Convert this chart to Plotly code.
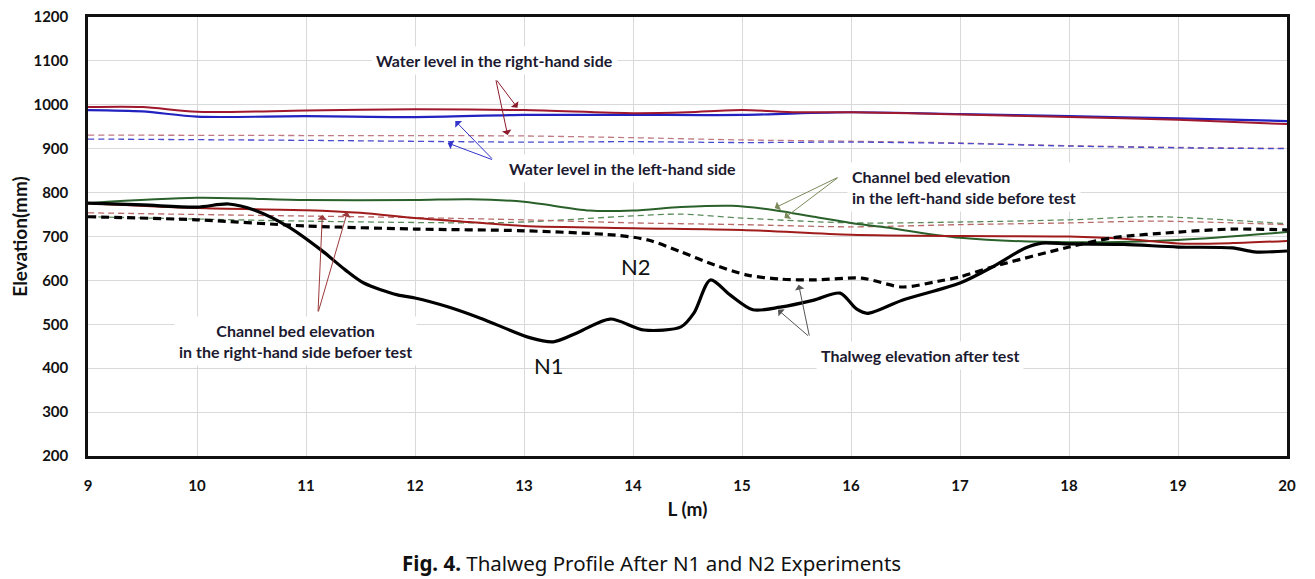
import plotly.graph_objects as go

# ---------------- data ----------------
wl_right_x = [9, 9.5, 10, 11, 12, 13, 14, 14.5, 15, 15.5, 16, 17, 18, 19, 20]
wl_right_y = [995, 995, 984, 987, 990, 988, 981, 983, 988, 983, 983, 978, 972, 966, 956]

wl_left_x = [9, 9.5, 10, 11, 12, 13, 14, 15, 16, 17, 18, 19, 20]
wl_left_y = [988, 985, 973, 974, 972, 977, 977, 977, 983, 979, 974, 969, 963]

wl_right_d_x = [9, 11, 13, 14, 15, 16, 17, 18, 19, 20]
wl_right_d_y = [931, 930, 929, 925, 920, 917, 913, 907, 903, 901]

wl_left_d_x = [9, 11, 13, 14, 15, 16, 17, 18, 19, 20]
wl_left_d_y = [922, 919, 915, 916, 914, 915, 912, 906, 902, 900]

bed_left_x = [9, 10, 11, 12, 12.5, 13, 13.6, 14, 14.44, 14.9, 15.3, 15.66, 16, 16.28, 17, 18, 19, 20]
bed_left_y = [776, 788, 783, 783, 785, 779, 759, 759, 767, 770, 760, 745, 731, 722, 697, 687, 692, 710]

bed_right_x = [9, 10, 11, 11.5, 12, 12.5, 13, 14, 15, 16, 17, 18, 18.5, 19, 19.5, 20]
bed_right_y = [776, 765, 760, 754, 742, 733, 724, 719, 715, 704, 701, 700, 695, 684, 685, 690]

bed_left_d_x = [9, 11, 12.6, 13, 14, 14.44, 15, 16, 17, 18, 18.8, 20]
bed_left_d_y = [745, 735, 731, 733, 747, 751, 742, 731, 733, 738, 745, 729]

bed_right_d_x = [9, 10.3, 12, 13, 14, 15, 16, 17, 18, 18.8, 20]
bed_right_d_y = [754, 749, 743, 738, 731, 727, 722, 727, 731, 735, 727]

n1_x = [9, 9.5, 10, 10.29, 10.53, 10.84, 11.14, 11.36, 11.53, 11.84, 12.0, 12.3, 12.6, 13.06,
        13.27, 13.5, 13.79, 14.1, 14.44, 14.56, 14.71, 14.89, 15.1, 15.35, 15.66, 15.9, 16.05,
        16.15, 16.47, 17.0, 17.3, 17.6, 17.75, 18.0, 18.5, 19.0, 19.5, 19.7, 20.0]
n1_y = [776, 772, 767, 774, 760, 722, 669, 624, 594, 567, 560, 540, 514, 469,
        460, 482, 512, 487, 494, 526, 601, 567, 533, 539, 555, 571, 535,
        525, 555, 594, 631, 674, 685, 683, 682, 676, 674, 665, 667]

n2_x = [9, 10, 11, 12, 13, 13.84, 14.14, 14.44, 14.75, 15.05, 15.35, 15.66, 16.1, 16.47,
        16.8, 17.0, 17.3, 18.0, 18.4, 19.0, 19.5, 20.0]
n2_y = [745, 738, 724, 717, 713, 703, 692, 665, 635, 612, 603, 601, 605, 585,
        598, 608, 631, 676, 697, 710, 717, 715]

x_ticks = list(range(9, 21))
y_ticks = list(range(200, 1201, 100))

# ---------------- figure ----------------
fig = go.Figure()

def add_line(x, y, color, width, dash="solid"):
    fig.add_trace(go.Scatter(x=x, y=y, mode="lines",
                             line=dict(color=color, width=width, dash=dash, shape="spline", smoothing=0.8),
                             showlegend=False, hoverinfo="skip"))

add_line(wl_right_d_x, wl_right_d_y, "#c07a86", 1.3, "6px,4px")
add_line(wl_left_d_x, wl_left_d_y, "#4a4ad0", 1.3, "6px,4px")
add_line(bed_left_d_x, bed_left_d_y, "#5b8a5b", 1.3, "6px,4px")
add_line(bed_right_d_x, bed_right_d_y, "#b86a6a", 1.3, "6px,4px")
add_line(wl_left_x, wl_left_y, "#2222c0", 2.2)
add_line(wl_right_x, wl_right_y, "#a0182e", 2.0)
add_line(bed_left_x, bed_left_y, "#2a602a", 2.0)
add_line(bed_right_x, bed_right_y, "#a01c1c", 2.0)
add_line(n2_x, n2_y, "#000000", 3.2, "8px,5px")
add_line(n1_x, n1_y, "#000000", 3.2)

# ---------------- annotations ----------------
FONT = "Lato, Open Sans, sans-serif"
txt_font = dict(family=FONT, size=16, color="#1c1a30")
labels = [
    (12.73, 1102, "<b>Water level in the right-hand side</b>", "center"),
    (13.90, 856, "<b>Water level in the left-hand side</b>", "center"),
    (10.90, 462, "<b>Channel bed elevation<br>in the right-hand side befoer test</b>", "center"),
    (16.63, 430, "<b>Thalweg elevation after test</b>", "center"),
]
for x, y, t, al in labels:
    fig.add_annotation(x=x, y=y, text=t, showarrow=False, font=txt_font, align=al,
                       bgcolor="white", borderpad=4, xref="x", yref="y")
fig.add_annotation(x=15.96, y=813, text="<b>Channel bed elevation<br>in the left-hand side before test</b>",
                   showarrow=False, font=txt_font, align="left", xanchor="left",
                   bgcolor="white", borderpad=4, xref="x", yref="y")

fig.add_annotation(x=13.23, y=407, text="N1", showarrow=False,
                   font=dict(family=FONT, size=22, color="#111"))
fig.add_annotation(x=14.03, y=631, text="N2", showarrow=False,
                   font=dict(family=FONT, size=22, color="#111"))

arrows = [
    ("#8b1a2a", 12.74, 1059, [(12.94, 993), (12.85, 931)]),
    ("#3333cc", 12.72, 874, [(12.37, 963), (12.30, 913)]),
    ("#7a8a5a", 15.89, 836, [(15.30, 765), (15.39, 742)]),
    ("#9b3a3a", 11.11, 526, [(11.15, 749), (11.38, 756)]),
    ("#555555", 15.62, 471, [(15.33, 533), (15.52, 590)]),
]
for col, tx, ty, heads in arrows:
    for hx, hy in heads:
        fig.add_annotation(x=hx, y=hy, ax=tx, ay=ty, axref="x", ayref="y", xref="x", yref="y",
                           text="", showarrow=True, arrowhead=1, arrowsize=1.6, arrowwidth=1,
                           arrowcolor=col)

# caption
fig.add_annotation(x=0.4696, y=-0.2437, xref="paper", yref="paper",
                   text="<b>Fig. 4.</b> Thalweg Profile After N1 and N2 Experiments",
                   showarrow=False, yanchor="middle",
                   font=dict(family="Noto Sans, sans-serif", size=20.5, color="#111"))

axis_font = dict(family=FONT, size=15, color="#111")
title_font = dict(family=FONT, size=19, color="#111")
fig.update_layout(
    width=1307, height=571,
    margin=dict(l=80, r=28, t=9, b=123, autoexpand=False),
    paper_bgcolor="white", plot_bgcolor="white",
    xaxis=dict(range=[9, 20], tickvals=x_ticks, ticktext=[f"<b>{v}</b>" for v in x_ticks],
               showgrid=True, gridcolor="#d9d9d9", gridwidth=1, zeroline=False,
               showline=True, linecolor="#111", linewidth=2.5, mirror=True, automargin=False,
               tickfont=axis_font, ticks="", ticklabelstandoff=14, ticklabeloverflow="allow",
               title=dict(text="<b>L (m)</b>", font=title_font, standoff=10)),
    yaxis=dict(range=[200, 1200], tickvals=y_ticks, ticktext=[f"<b>{v}</b>" for v in y_ticks],
               showgrid=True, gridcolor="#d9d9d9", gridwidth=1, zeroline=False,
               showline=True, linecolor="#111", linewidth=2.5, mirror=True, automargin=False,
               tickfont=axis_font, ticks="", ticklabelstandoff=14, ticklabeloverflow="allow",
               title=dict(text="<b>Elevation(mm)</b>", font=title_font, standoff=10)),
)

fig.write_html("out.html")
